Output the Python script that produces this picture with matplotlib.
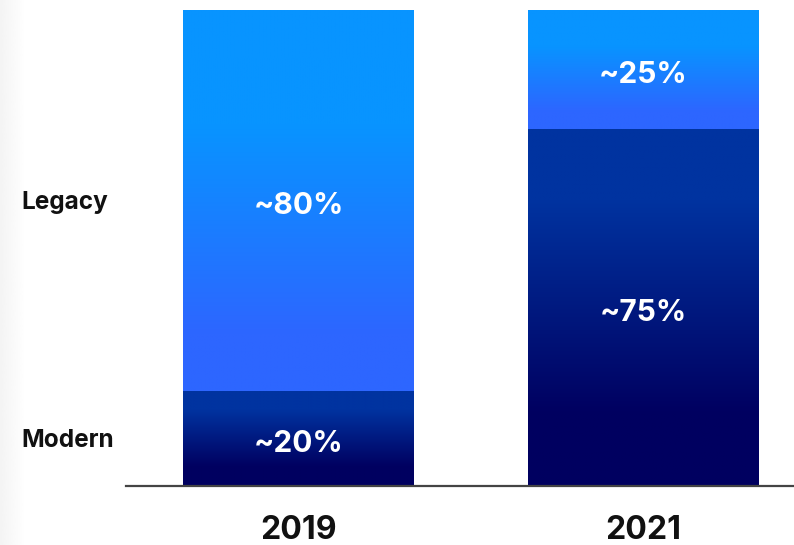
import numpy as np
import matplotlib
matplotlib.use('Agg')
import matplotlib.pyplot as plt
from matplotlib.colors import LinearSegmentedColormap

# share of workloads per year (percent)
years = ['2019', '2021']
modern = [20, 75]
legacy = [80, 25]
series_names = ['Modern', 'Legacy']

plt.rcParams['font.family'] = ['Inter', 'DejaVu Sans']

# vertical gradients, listed bottom -> top
cmap_modern = LinearSegmentedColormap.from_list(
    'modern', [(0.0, '#000060'), (0.2, '#000060'), (0.8, '#0033a0'), (1.0, '#0033a0')])
cmap_legacy = LinearSegmentedColormap.from_list(
    'legacy', [(0.0, '#2d66ff'), (0.15, '#2d66ff'), (0.7, '#0894ff'), (1.0, '#0894ff')])

W, H = 794, 545
fig = plt.figure(figsize=(W / 100, H / 100), dpi=100)
fig.patch.set_facecolor('white')

# faint shade along the left edge
shade = fig.add_axes([0, 0, 26 / W, 1])
shade.imshow(np.linspace(0.955, 1.0, 64)[None, :], cmap='gray', vmin=0, vmax=1,
             aspect='auto', extent=(0, 1, 0, 1))
shade.axis('off')

ax = fig.add_axes([126 / W, 59 / H, 667 / W, 476 / H])

grad = np.linspace(0, 1, 256)[:, None]
width = 0.67
x = np.arange(len(years))
for i, xi in enumerate(x):
    bottom = 0
    for vals, cmap in ((modern, cmap_modern), (legacy, cmap_legacy)):
        v = vals[i]
        ax.imshow(grad, cmap=cmap, origin='lower', aspect='auto',
                  extent=(xi - width / 2, xi + width / 2, bottom, bottom + v),
                  interpolation='bilinear', zorder=2)
        ax.annotate('~%d%%' % v, xy=(xi, bottom + v / 2), xytext=(0, -2),
                    textcoords='offset points', ha='center', va='center_baseline',
                    color='white', fontsize=21.5, fontweight='bold', zorder=3)
        bottom += v

ax.set_xlim(-0.5007, 1.435)
ax.set_ylim(0, 100)

# row labels on the left, aligned with the 2019 segments
ax.annotate(series_names[0], xy=(21, modern[0] / 2), xycoords=('figure pixels', 'data'),
            ha='left', va='center_baseline', fontsize=17.5, fontweight='bold', color='#111111',
            annotation_clip=False)
ax.annotate(series_names[1], xy=(21, modern[0] + legacy[0] / 2), xycoords=('figure pixels', 'data'),
            ha='left', va='center_baseline', fontsize=17.5, fontweight='bold', color='#111111',
            annotation_clip=False)

for s in ['top', 'right', 'left']:
    ax.spines[s].set_visible(False)
ax.spines['bottom'].set_color('#444444')
ax.spines['bottom'].set_linewidth(1.6)
ax.spines['bottom'].set_zorder(4)
ax.set_yticks([])
ax.set_xticks(x)
ax.set_xticklabels(years, fontsize=23, fontweight='bold', color='#111111')
ax.tick_params(axis='x', length=0, pad=21)

fig.savefig('out.png', dpi=100)
